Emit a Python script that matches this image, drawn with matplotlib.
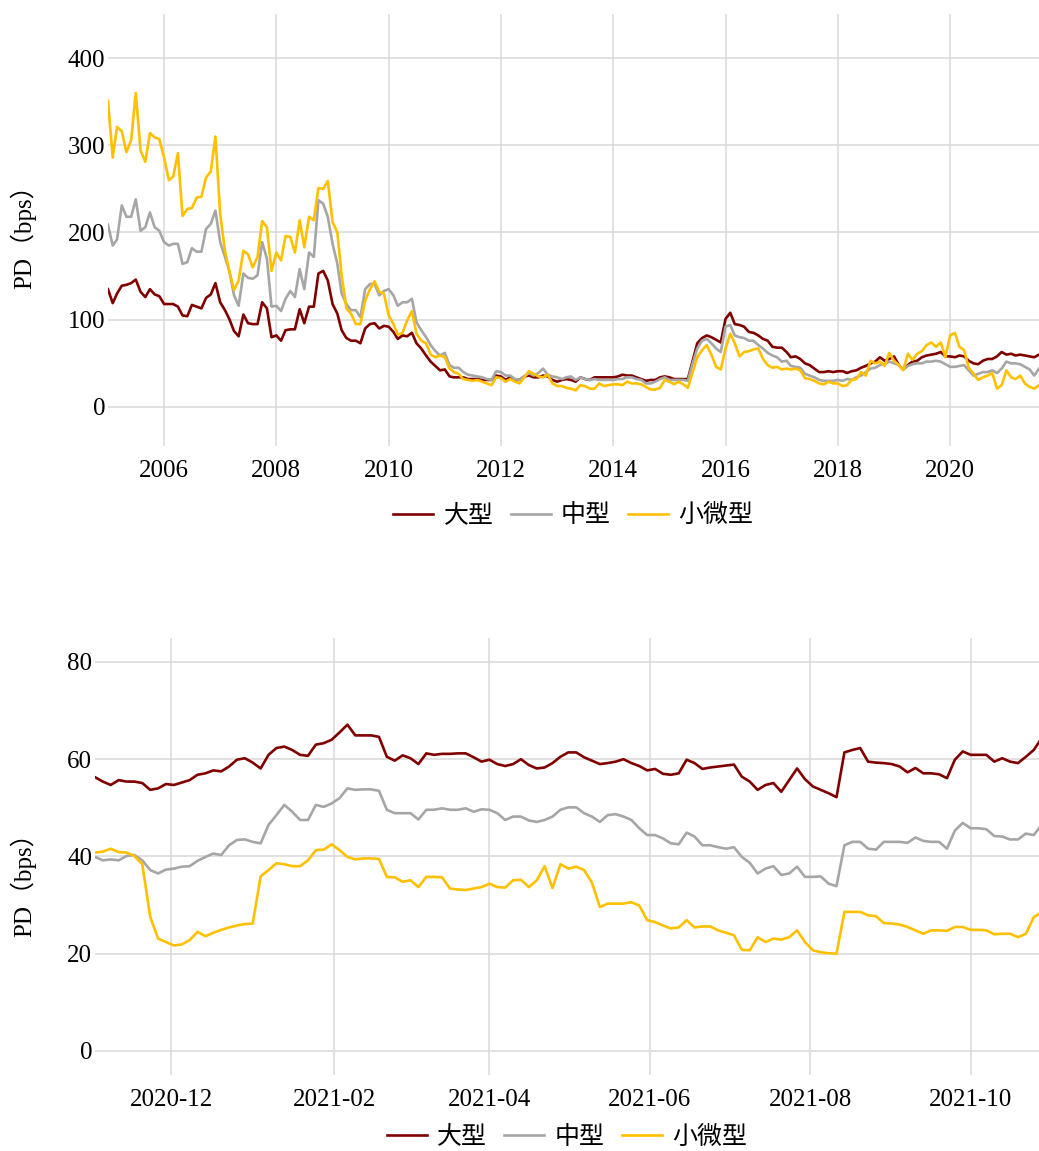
import pandas as pd
import matplotlib
matplotlib.use("Agg")
import matplotlib.pyplot as plt
import matplotlib.dates as mdates

# fonts: Times-like digits, CJK fallback for the Chinese text
plt.rcParams['font.family'] = ['Liberation Serif', 'Noto Sans CJK SC']
plt.rcParams['axes.unicode_minus'] = False

series_names = ["大型", "中型", "小微型"]
colors = ["#800000", "#A6A6A6", "#FFC000"]

# ---- top panel: monthly PD (bps), 2005-01 .. 2021-08 ----
monthly_dates = pd.date_range("2005-01-01", periods=200, freq="MS")

large_monthly = [
    135, 119, 130, 139, 140, 142, 146, 132, 126, 135, 129, 127,
    118, 118, 118, 115, 105, 104, 117, 115, 113, 125, 129, 142,
    120, 111, 101, 87, 81, 106, 96, 95, 95, 120, 113, 80,
    82, 76, 88, 89, 89, 112, 96, 115, 115, 153, 156, 145,
    118, 107, 88, 79, 76, 76, 73, 90, 95, 96, 90, 93,
    92, 86, 78, 82, 81, 85, 73, 67, 59, 52, 47, 42,
    43, 35, 34, 34, 34, 32, 32, 32, 31, 31, 31, 36,
    35, 31, 34, 31, 31, 35, 36, 34, 34, 36, 35, 31,
    29, 31, 32, 31, 29, 34, 32, 31, 34, 34, 34, 34,
    34, 35, 37, 36, 36, 34, 32, 30, 31, 31, 34, 35,
    34, 32, 32, 32, 32, 53, 73, 79, 82, 80, 77, 74,
    101, 108, 95, 94, 92, 86, 85, 82, 78, 76, 69, 68,
    68, 63, 57, 58, 55, 50, 48, 44, 40, 40, 41, 40,
    41, 41, 39, 41, 42, 45, 47, 50, 52, 57, 53, 55,
    58, 48, 43, 48, 52, 53, 57, 59, 60, 61, 63, 58,
    58, 57, 59, 58, 53, 50, 49, 53, 55, 55, 58, 63,
    60, 61, 59, 60, 59, 58, 57, 60,
]
mid_monthly = [
    209, 185, 192, 231, 218, 218, 238, 202, 206, 223, 206, 202,
    189, 185, 187, 187, 164, 166, 182, 178, 178, 204, 210, 225,
    189, 172, 156, 128, 116, 153, 148, 147, 151, 189, 170, 115,
    116, 110, 124, 133, 126, 158, 135, 177, 172, 237, 233, 218,
    187, 164, 130, 118, 111, 111, 103, 135, 141, 141, 128, 133,
    135, 128, 116, 120, 120, 124, 97, 88, 80, 71, 64, 59,
    62, 48, 45, 45, 40, 37, 36, 35, 34, 32, 31, 41,
    40, 36, 36, 32, 31, 35, 39, 36, 39, 44, 37, 35,
    34, 32, 34, 35, 31, 34, 32, 31, 32, 31, 31, 31,
    31, 32, 32, 34, 34, 32, 31, 27, 27, 29, 32, 34,
    31, 31, 31, 31, 30, 50, 67, 76, 78, 73, 67, 63,
    92, 94, 82, 80, 79, 76, 76, 71, 67, 62, 59, 57,
    52, 53, 47, 46, 45, 38, 36, 34, 31, 30, 30, 30,
    31, 30, 32, 31, 34, 36, 40, 44, 45, 48, 49, 52,
    50, 48, 43, 47, 49, 50, 50, 52, 52, 53, 52, 49,
    46, 46, 47, 48, 42, 36, 38, 40, 40, 42, 39, 44,
    52, 50, 50, 49, 46, 43, 36, 44,
]
small_monthly = [
    351, 286, 321, 316, 292, 306, 360, 294, 281, 314, 309, 307,
    286, 260, 264, 291, 219, 227, 228, 240, 241, 263, 270, 310,
    221, 179, 156, 134, 145, 179, 175, 160, 172, 213, 206, 156,
    177, 168, 196, 195, 177, 214, 183, 218, 214, 251, 250, 259,
    212, 200, 151, 113, 107, 95, 95, 122, 135, 144, 132, 130,
    105, 95, 83, 85, 99, 110, 84, 76, 73, 60, 57, 59,
    57, 44, 40, 38, 32, 31, 30, 31, 29, 27, 25, 34,
    33, 29, 32, 29, 27, 34, 41, 38, 35, 34, 37, 27,
    24, 24, 22, 21, 19, 25, 24, 21, 21, 27, 24, 25,
    26, 26, 25, 29, 27, 27, 26, 23, 20, 20, 22, 31,
    29, 26, 29, 26, 22, 40, 57, 65, 71, 60, 46, 43,
    67, 84, 73, 58, 63, 64, 66, 67, 55, 48, 45, 46,
    43, 44, 43, 44, 42, 33, 32, 30, 27, 26, 29, 27,
    27, 24, 25, 31, 32, 40, 36, 53, 50, 52, 47, 62,
    53, 48, 42, 61, 54, 61, 64, 71, 74, 69, 74, 57,
    82, 85, 69, 65, 45, 38, 31, 34, 36, 39, 21, 25,
    42, 34, 32, 36, 27, 23, 21, 25,
]

# ---- bottom panel: PD (bps) every 3 days, 2020-11 .. 2021-10 ----
daily_dates = pd.date_range("2020-11-02", periods=121, freq="3D")

large_daily = [
    56.3, 55.4, 54.7, 55.7, 55.4, 55.4, 55.1, 53.7, 54.0, 54.9,
    54.7, 55.2, 55.7, 56.8, 57.1, 57.7, 57.5, 58.5, 59.9, 60.2,
    59.3, 58.1, 60.9, 62.3, 62.6, 61.9, 60.9, 60.7, 63.0, 63.3,
    64.0, 65.5, 67.1, 64.9, 64.9, 64.9, 64.6, 60.5, 59.7, 60.8,
    60.2, 59.0, 61.2, 60.9, 61.1, 61.1, 61.2, 61.2, 60.4, 59.5,
    59.9, 59.0, 58.6, 59.0, 60.0, 58.8, 58.1, 58.3, 59.2, 60.5,
    61.4, 61.4, 60.4, 59.7, 59.0, 59.2, 59.5, 60.0, 59.2, 58.6,
    57.7, 58.0, 57.0, 56.8, 57.1, 59.9, 59.2, 58.0, 58.3, 58.5,
    58.7, 58.9, 56.4, 55.4, 53.7, 54.7, 55.1, 53.3, 55.7, 58.1,
    55.9, 54.4, 53.7, 53.0, 52.2, 61.4, 61.9, 62.3, 59.5, 59.3,
    59.2, 59.0, 58.5, 57.3, 58.2, 57.1, 57.1, 56.9, 56.1, 59.9,
    61.6, 60.9, 60.9, 60.9, 59.5, 60.2, 59.5, 59.2, 60.5, 61.9,
    64.3,
]
mid_daily = [
    39.9, 39.2, 39.4, 39.2, 40.1, 40.3, 39.2, 37.2, 36.5, 37.3,
    37.5, 37.9, 38.0, 39.1, 39.9, 40.6, 40.3, 42.3, 43.4, 43.5,
    43.0, 42.7, 46.5, 48.5, 50.6, 49.2, 47.5, 47.5, 50.6, 50.2,
    50.9, 52.0, 54.0, 53.7, 53.8, 53.8, 53.5, 49.6, 48.9, 48.9,
    48.9, 47.6, 49.6, 49.6, 49.9, 49.6, 49.6, 49.9, 49.2, 49.7,
    49.6, 48.9, 47.5, 48.2, 48.2, 47.4, 47.1, 47.5, 48.2, 49.6,
    50.1, 50.1, 48.9, 48.2, 47.1, 48.5, 48.7, 48.2, 47.5, 45.8,
    44.4, 44.4, 43.7, 42.7, 42.5, 44.9, 44.1, 42.3, 42.3, 41.9,
    41.6, 41.9, 39.9, 38.7, 36.5, 37.5, 38.0, 36.2, 36.5, 37.9,
    35.8, 35.8, 35.9, 34.4, 33.9, 42.3, 43.0, 43.0, 41.6, 41.4,
    43.0, 43.0, 43.0, 42.8, 43.9, 43.2, 43.0, 43.0, 41.6, 45.3,
    46.9, 45.8, 45.8, 45.6, 44.2, 44.1, 43.5, 43.5, 44.7, 44.4,
    46.5,
]
small_daily = [
    40.8, 41.0, 41.6, 40.9, 40.8, 40.1, 38.4, 27.6, 23.1, 22.4,
    21.7, 21.9, 22.8, 24.5, 23.6, 24.3, 24.9, 25.4, 25.8, 26.1,
    26.2, 35.9, 37.2, 38.6, 38.4, 38.0, 38.0, 39.2, 41.3, 41.4,
    42.5, 41.3, 39.9, 39.4, 39.6, 39.6, 39.5, 35.8, 35.7, 34.8,
    35.1, 33.7, 35.8, 35.8, 35.7, 33.4, 33.2, 33.1, 33.4, 33.7,
    34.4, 33.7, 33.6, 35.1, 35.2, 33.7, 35.1, 38.0, 33.5, 38.4,
    37.5, 37.9, 37.2, 34.6, 29.6, 30.3, 30.3, 30.3, 30.6, 29.9,
    26.9, 26.5, 25.8, 25.2, 25.4, 26.9, 25.4, 25.6, 25.6, 24.8,
    24.3, 23.8, 20.8, 20.7, 23.4, 22.4, 23.1, 22.9, 23.4, 24.8,
    22.4, 20.7, 20.3, 20.1, 20.0, 28.6, 28.6, 28.6, 27.9, 27.7,
    26.3, 26.2, 26.0, 25.5, 24.8, 24.1, 24.8, 24.8, 24.7, 25.5,
    25.5, 24.9, 24.9, 24.8, 24.0, 24.1, 24.1, 23.4, 24.1, 27.5,
    28.6,
]


def style_axis(ax, yticks, ylim):
    ax.set_ylim(*ylim)
    ax.set_yticks(yticks)
    ax.grid(True, color="#D9D9D9", linewidth=1.1)
    ax.set_axisbelow(True)
    for s in ax.spines.values():
        s.set_visible(False)
    ax.tick_params(axis="both", length=0, labelsize=18, colors="black")
    ax.tick_params(axis="x", pad=10)
    ax.tick_params(axis="y", pad=2)
    ax.set_ylabel("PD（bps）", fontsize=18)


def add_legend(ax, y):
    ax.legend(loc="center", bbox_to_anchor=(0.5, y), ncol=3, frameon=False,
              handlelength=1.6, handletextpad=0.4, columnspacing=0.7,
              prop={"family": ["Noto Sans CJK SC"], "size": 18})


fig = plt.figure(figsize=(10.39, 11.51), dpi=100)

# top panel
ax1 = fig.add_axes([0.1039, 0.6123, 0.8961, 0.3752])
for vals, name, c in zip([large_monthly, mid_monthly, small_monthly], series_names, colors):
    ax1.plot(monthly_dates, vals, color=c, linewidth=1.9, label=name)
ax1.set_xlim(monthly_dates[0], monthly_dates[-1])
ax1.xaxis.set_major_locator(mdates.YearLocator(2))
ax1.xaxis.set_major_formatter(mdates.DateFormatter("%Y"))
style_axis(ax1, [0, 100, 200, 300, 400], (-45, 450))
ax1.yaxis.set_label_coords(-0.0773, 0.5)
add_legend(ax1, -0.16)

# bottom panel
ax2 = fig.add_axes([0.0914, 0.0658, 0.9086, 0.3802])
for vals, name, c in zip([large_daily, mid_daily, small_daily], series_names, colors):
    ax2.plot(daily_dates, vals, color=c, linewidth=1.9, label=name)
ax2.set_xlim(daily_dates[0], pd.Timestamp("2021-10-27"))
ax2.xaxis.set_major_locator(mdates.MonthLocator(bymonth=[2, 4, 6, 8, 10, 12]))
ax2.xaxis.set_major_formatter(mdates.DateFormatter("%Y-%m"))
style_axis(ax2, [0, 20, 40, 60, 80], (-5, 85))
ax2.yaxis.set_label_coords(-0.0625, 0.45)
add_legend(ax2, -0.14)

fig.savefig("out.png", dpi=100)
